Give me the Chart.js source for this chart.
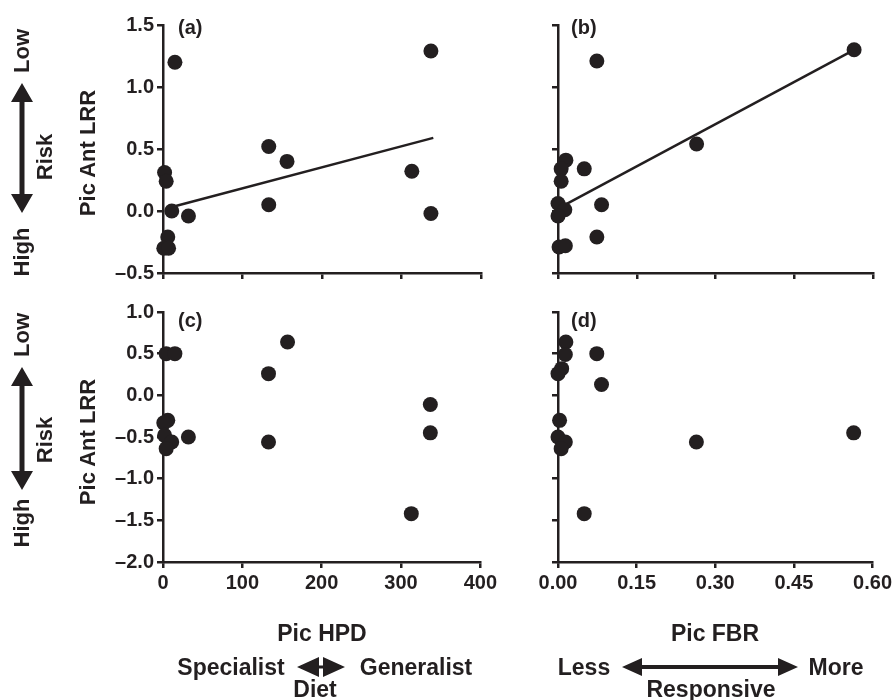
<!DOCTYPE html>
<html>
<head>
<meta charset="utf-8">
<script src="https://cdn.jsdelivr.net/npm/chart.js@4.4.1/dist/chart.umd.min.js"></script>
<style>
  body { margin: 0; background: #fff; }
  #wrap {
    position: relative; width: 895px; height: 700px; overflow: hidden;
    font-family: "Liberation Sans", Arial, sans-serif; font-weight: bold; color: #231f20;
  }
  canvas { position: absolute; }
  svg { position: absolute; left: 0; top: 0; }
  .lbl { position: absolute; white-space: nowrap; line-height: 1; transform: translate(-50%, -50%); }
  .rot { transform: translate(-50%, -50%) rotate(-90deg); }
  .big { font-size: 22px; }
  .bot { font-size: 23px; }
  .tag { font-size: 20px; transform: translate(0, -50%); }
</style>
</head>
<body>
<div id="wrap">
  <canvas id="chartA" width="500" height="290" style="left:0;top:0"></canvas>
  <canvas id="chartB" width="395" height="290" style="left:500px;top:0"></canvas>
  <canvas id="chartC" width="500" height="310" style="left:0;top:290px"></canvas>
  <canvas id="chartD" width="395" height="310" style="left:500px;top:290px"></canvas>

  <svg width="895" height="700">
    <polygon fill="#231f20" points="22,83 33,102 24.5,102 24.5,194 33,194 22,213 11,194 19.5,194 19.5,102 11,102"/>
    <polygon fill="#231f20" points="22,367 33,386 24.5,386 24.5,471 33,471 22,490 11,471 19.5,471 19.5,386 11,386"/>
    <polygon fill="#231f20" points="297,667 319,657 319,665.5 323,665.5 323,657 345,667 323,677 323,668.5 319,668.5 319,677"/>
    <polygon fill="#231f20" points="622,667 642,658 642,665 778,665 778,658 798,667 778,676 778,669 642,669 642,676"/>
  </svg>

  <div class="lbl rot big" style="left:22px;top:51px">Low</div>
  <div class="lbl rot big" style="left:22px;top:252px">High</div>
  <div class="lbl rot big" style="left:45px;top:157px">Risk</div>
  <div class="lbl rot big" style="left:88px;top:153px">Pic Ant LRR</div>

  <div class="lbl rot big" style="left:22px;top:335px">Low</div>
  <div class="lbl rot big" style="left:22px;top:523px">High</div>
  <div class="lbl rot big" style="left:45px;top:440px">Risk</div>
  <div class="lbl rot big" style="left:88px;top:442px">Pic Ant LRR</div>

  <div class="lbl tag" style="left:178px;top:27px">(a)</div>
  <div class="lbl tag" style="left:571px;top:27px">(b)</div>
  <div class="lbl tag" style="left:178px;top:320px">(c)</div>
  <div class="lbl tag" style="left:571px;top:320px">(d)</div>

  <div class="lbl bot" style="left:322px;top:633px">Pic HPD</div>
  <div class="lbl bot" style="left:715px;top:633px">Pic FBR</div>
  <div class="lbl bot" style="left:231px;top:667px">Specialist</div>
  <div class="lbl bot" style="left:416px;top:667px">Generalist</div>
  <div class="lbl bot" style="left:315px;top:689px">Diet</div>
  <div class="lbl bot" style="left:584px;top:667px">Less</div>
  <div class="lbl bot" style="left:836px;top:667px">More</div>
  <div class="lbl bot" style="left:711px;top:689px">Responsive</div>
</div>

<script>
// tick labels
const hpdTicks = [0, 100, 200, 300, 400];
const fbrTicks = [0, 0.15, 0.3, 0.45, 0.6];
const lrrTicksTop = [-0.5, 0, 0.5, 1.0, 1.5];
const lrrTicksBottom = [-2.0, -1.5, -1.0, -0.5, 0, 0.5, 1.0];

// panel (a): Pic HPD vs Pic Ant LRR
const hpdA = [15, 337, 133, 156, 313, 337, 133, 32, 11, 2, 4, 6, 1, 7];
const lrrA = [1.20, 1.29, 0.52, 0.40, 0.32, -0.02, 0.05, -0.04, 0.00, 0.31, 0.24, -0.21, -0.30, -0.30];
const fitAx = [10, 340];
const fitAy = [0.03, 0.59];

// panel (b): Pic FBR vs Pic Ant LRR
const fbrB = [0.564, 0.074, 0.264, 0.015, 0.006, 0.050, 0.006, 0.000, 0.013, 0.000, 0.083, 0.074, 0.002, 0.014];
const lrrB = [1.30, 1.21, 0.54, 0.41, 0.34, 0.34, 0.24, 0.06, 0.01, -0.04, 0.05, -0.21, -0.29, -0.28];
const fitBx = [0.013, 0.564];
const fitBy = [0.05, 1.30];

// panel (c)
const hpdC = [157, 133, 4, 15, 337, 337, 133, 313, 32, 6, 1, 2, 11, 4];
const lrrC = [0.64, 0.26, 0.50, 0.50, -0.11, -0.45, -0.56, -1.42, -0.50, -0.30, -0.33, -0.48, -0.56, -0.64];

// panel (d)
const fbrD = [0.015, 0.014, 0.074, 0.007, 0.000, 0.083, 0.003, 0.000, 0.014, 0.006, 0.264, 0.564, 0.050];
const lrrD = [0.64, 0.49, 0.50, 0.32, 0.26, 0.13, -0.30, -0.50, -0.56, -0.64, -0.56, -0.45, -1.42];

const ink = "#231f20";
const tickFont = { family: "'Liberation Sans', Arial, sans-serif", size: 20, weight: "bold" };

const toPoints = (xs, ys) => xs.map((x, i) => ({ x, y: ys[i] }));
const dash = (s) => s.replace("-", "\u2013");

const axis = (ticks, min, max, fmt, showLabels, fit) => ({
  type: "linear",
  min,
  max,
  afterBuildTicks: (s) => { s.ticks = ticks.map((v) => ({ value: v })); },
  afterFit: fit,
  grid: { display: true, drawOnChartArea: false, drawTicks: true, tickLength: 6, color: ink, lineWidth: 2.5 },
  border: { display: true, color: ink, width: 2.5 },
  ticks: { display: showLabels, color: ink, font: tickFont, padding: 3, autoSkip: false, maxRotation: 0, callback: fmt },
});

const makePanel = (id, p) => {
  const datasets = [
    {
      data: toPoints(p.xs, p.ys),
      pointRadius: 7.5,
      pointBackgroundColor: ink,
      pointBorderWidth: 0,
      showLine: false,
      clip: false,
    },
  ];
  if (p.fitX) {
    datasets.push({
      data: toPoints(p.fitX, p.fitY),
      showLine: true,
      borderColor: ink,
      borderWidth: 2.5,
      pointRadius: 0,
      clip: false,
    });
  }
  return new Chart(document.getElementById(id), {
    type: "scatter",
    data: { datasets },
    options: {
      responsive: false,
      animation: false,
      events: [],
      layout: { padding: { top: p.padTop, right: p.padRight, left: 0, bottom: 0 } },
      plugins: { legend: { display: false }, tooltip: { enabled: false } },
      scales: {
        x: axis(p.xTicks, p.xMin, p.xMax, p.xFmt, p.showX, (s) => { s.height = p.xAxisH; }),
        y: axis(p.yTicks, p.yMin, p.yMax, (v) => dash(Number(v).toFixed(1)), p.showY, (s) => { s.width = p.yAxisW; }),
      },
    },
  });
};

const hpdFmt = (v) => String(Math.round(v));
const fbrFmt = (v) => Number(v).toFixed(2);

makePanel("chartA", {
  xs: hpdA, ys: lrrA, fitX: fitAx, fitY: fitAy,
  xTicks: hpdTicks, xMin: 0, xMax: 400, xFmt: hpdFmt, showX: false,
  yTicks: lrrTicksTop, yMin: -0.5, yMax: 1.5, showY: true,
  padTop: 25, padRight: 19, xAxisH: 17, yAxisW: 163,
});

makePanel("chartB", {
  xs: fbrB, ys: lrrB, fitX: fitBx, fitY: fitBy,
  xTicks: fbrTicks, xMin: 0, xMax: 0.6, xFmt: fbrFmt, showX: false,
  yTicks: lrrTicksTop, yMin: -0.5, yMax: 1.5, showY: false,
  padTop: 25, padRight: 22, xAxisH: 17, yAxisW: 58,
});

makePanel("chartC", {
  xs: hpdC, ys: lrrC,
  xTicks: hpdTicks, xMin: 0, xMax: 400, xFmt: hpdFmt, showX: true,
  yTicks: lrrTicksBottom, yMin: -2, yMax: 1, showY: true,
  padTop: 22, padRight: 19, xAxisH: 38, yAxisW: 163,
});

makePanel("chartD", {
  xs: fbrD, ys: lrrD,
  xTicks: fbrTicks, xMin: 0, xMax: 0.6, xFmt: fbrFmt, showX: true,
  yTicks: lrrTicksBottom, yMin: -2, yMax: 1, showY: false,
  padTop: 22, padRight: 22, xAxisH: 38, yAxisW: 58,
});
</script>
</body>
</html>
